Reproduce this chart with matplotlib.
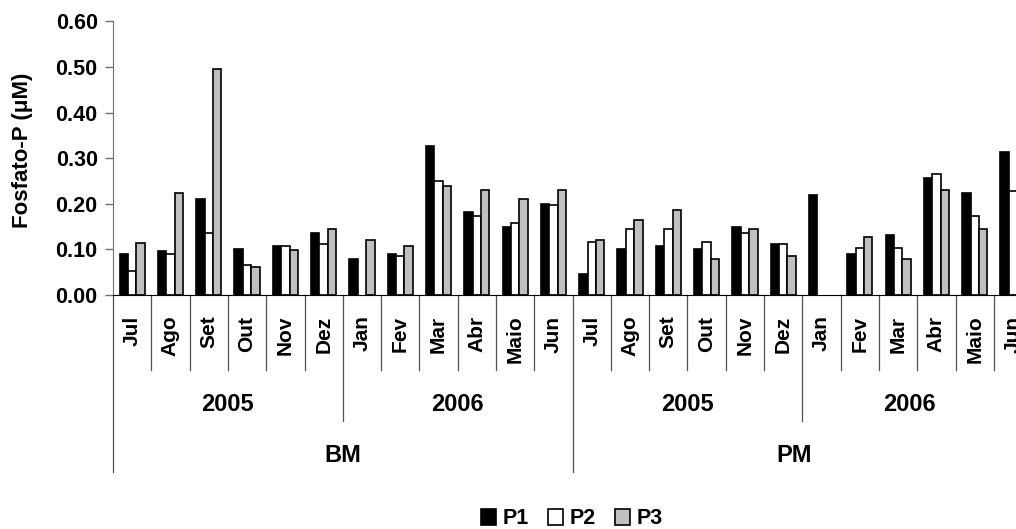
import numpy as np
import matplotlib
matplotlib.use("Agg")
import matplotlib.pyplot as plt

plt.rcParams['font.family'] = ['Liberation Sans', 'DejaVu Sans']
plt.rcParams['font.weight'] = 'bold'

months = ["Jul", "Ago", "Set", "Out", "Nov", "Dez", "Jan", "Fev", "Mar", "Abr", "Maio", "Jun",
          "Jul", "Ago", "Set", "Out", "Nov", "Dez", "Jan", "Fev", "Mar", "Abr", "Maio", "Jun"]
years = ["2005", "2006", "2005", "2006"]
sites = ["BM", "PM"]

# fosfato values (nan = no bar)
p1 = [0.091, 0.096, 0.210, 0.100, 0.108, 0.137, 0.080, 0.091, 0.327, 0.183, 0.150, 0.199,
      0.047, 0.100, 0.108, 0.100, 0.150, 0.112, 0.219, 0.091, 0.132, 0.257, 0.224, 0.314]
p2 = [0.053, 0.091, 0.137, 0.066, 0.108, 0.112, np.nan, 0.086, 0.251, 0.173, 0.157, 0.197,
      0.116, 0.145, 0.145, 0.116, 0.135, 0.112, np.nan, 0.104, 0.104, 0.265, 0.173, 0.227]
p3 = [0.115, 0.223, 0.495, 0.062, 0.099, 0.145, 0.121, 0.107, 0.239, 0.231, 0.211, 0.231,
      0.121, 0.165, 0.186, 0.079, 0.145, 0.086, np.nan, 0.128, 0.079, 0.231, 0.145, 0.124]

fig = plt.figure(figsize=(10.16, 5.29), dpi=100)
ax = fig.add_axes([113 / 1016, 1 - 295 / 529, (1016 - 113) / 1016, 273.6 / 529])

x = np.arange(len(months))
w = 0.22
ax.bar(x - w, p1, w, color='black', edgecolor='black', linewidth=1.2, label='P1')
ax.bar(x, p2, w, color='white', edgecolor='black', linewidth=1.2, label='P2')
ax.bar(x + w, p3, w, color='#c0c0c0', edgecolor='black', linewidth=1.2, label='P3')

xmax = -0.5 + 903 / 38.3
ax.set_xlim(-0.5, xmax)
ax.set_ylim(0, 0.6)
ax.set_yticks(np.arange(0, 0.61, 0.1))
ax.set_yticklabels([f"{v:.2f}" for v in np.arange(0, 0.61, 0.1)], fontsize=15.5, fontweight='bold')
ax.tick_params(axis='y', direction='out', length=6, width=1, color='#707070', pad=5)
ax.set_xticks([])
for s in ['top', 'right']:
    ax.spines[s].set_visible(False)
ax.spines['left'].set_color('#707070')
ax.spines['bottom'].set_color('black')

# multi-level category axis
tr = ax.get_xaxis_transform()
for i in range(len(months) + 1):
    b = i - 0.5
    if b > xmax:
        continue
    if i % 12 == 0:
        y0 = -0.646
    elif i % 6 == 0:
        y0 = -0.459
    else:
        y0 = -0.274
    ax.plot([b, b], [0, y0], transform=tr, color='#505050', lw=0.9, clip_on=False)

for i, m in enumerate(months):
    ax.text(i, -0.075, m, transform=tr, rotation=90, rotation_mode='anchor',
            ha='right', va='center', fontsize=15, fontweight='bold', clip_on=False)

for k, yr in enumerate(years):
    lo, hi = k * 6 - 0.5, min(k * 6 + 5.5, xmax)
    ax.text((lo + hi) / 2, -0.402, yr, transform=tr, ha='center', va='center',
            fontsize=17, fontweight='bold')
for k, s in enumerate(sites):
    lo, hi = k * 12 - 0.5, min(k * 12 + 11.5, xmax)
    ax.text((lo + hi) / 2, -0.585, s, transform=tr, ha='center', va='center',
            fontsize=17, fontweight='bold')

fig.text(23 / 1016, 1 - 150 / 529, "Fosfato-P (μM)", rotation=90, ha='center', va='center',
         fontsize=16, fontweight='bold')

fig.legend(loc='center', bbox_to_anchor=(572 / 1016, 1 - 519 / 529), ncol=3, frameon=False,
           handlelength=0.7, handleheight=0.7, handletextpad=0.3, columnspacing=0.9,
           prop={'size': 15.5, 'weight': 'bold'})

fig.savefig("out.png", dpi=100)
